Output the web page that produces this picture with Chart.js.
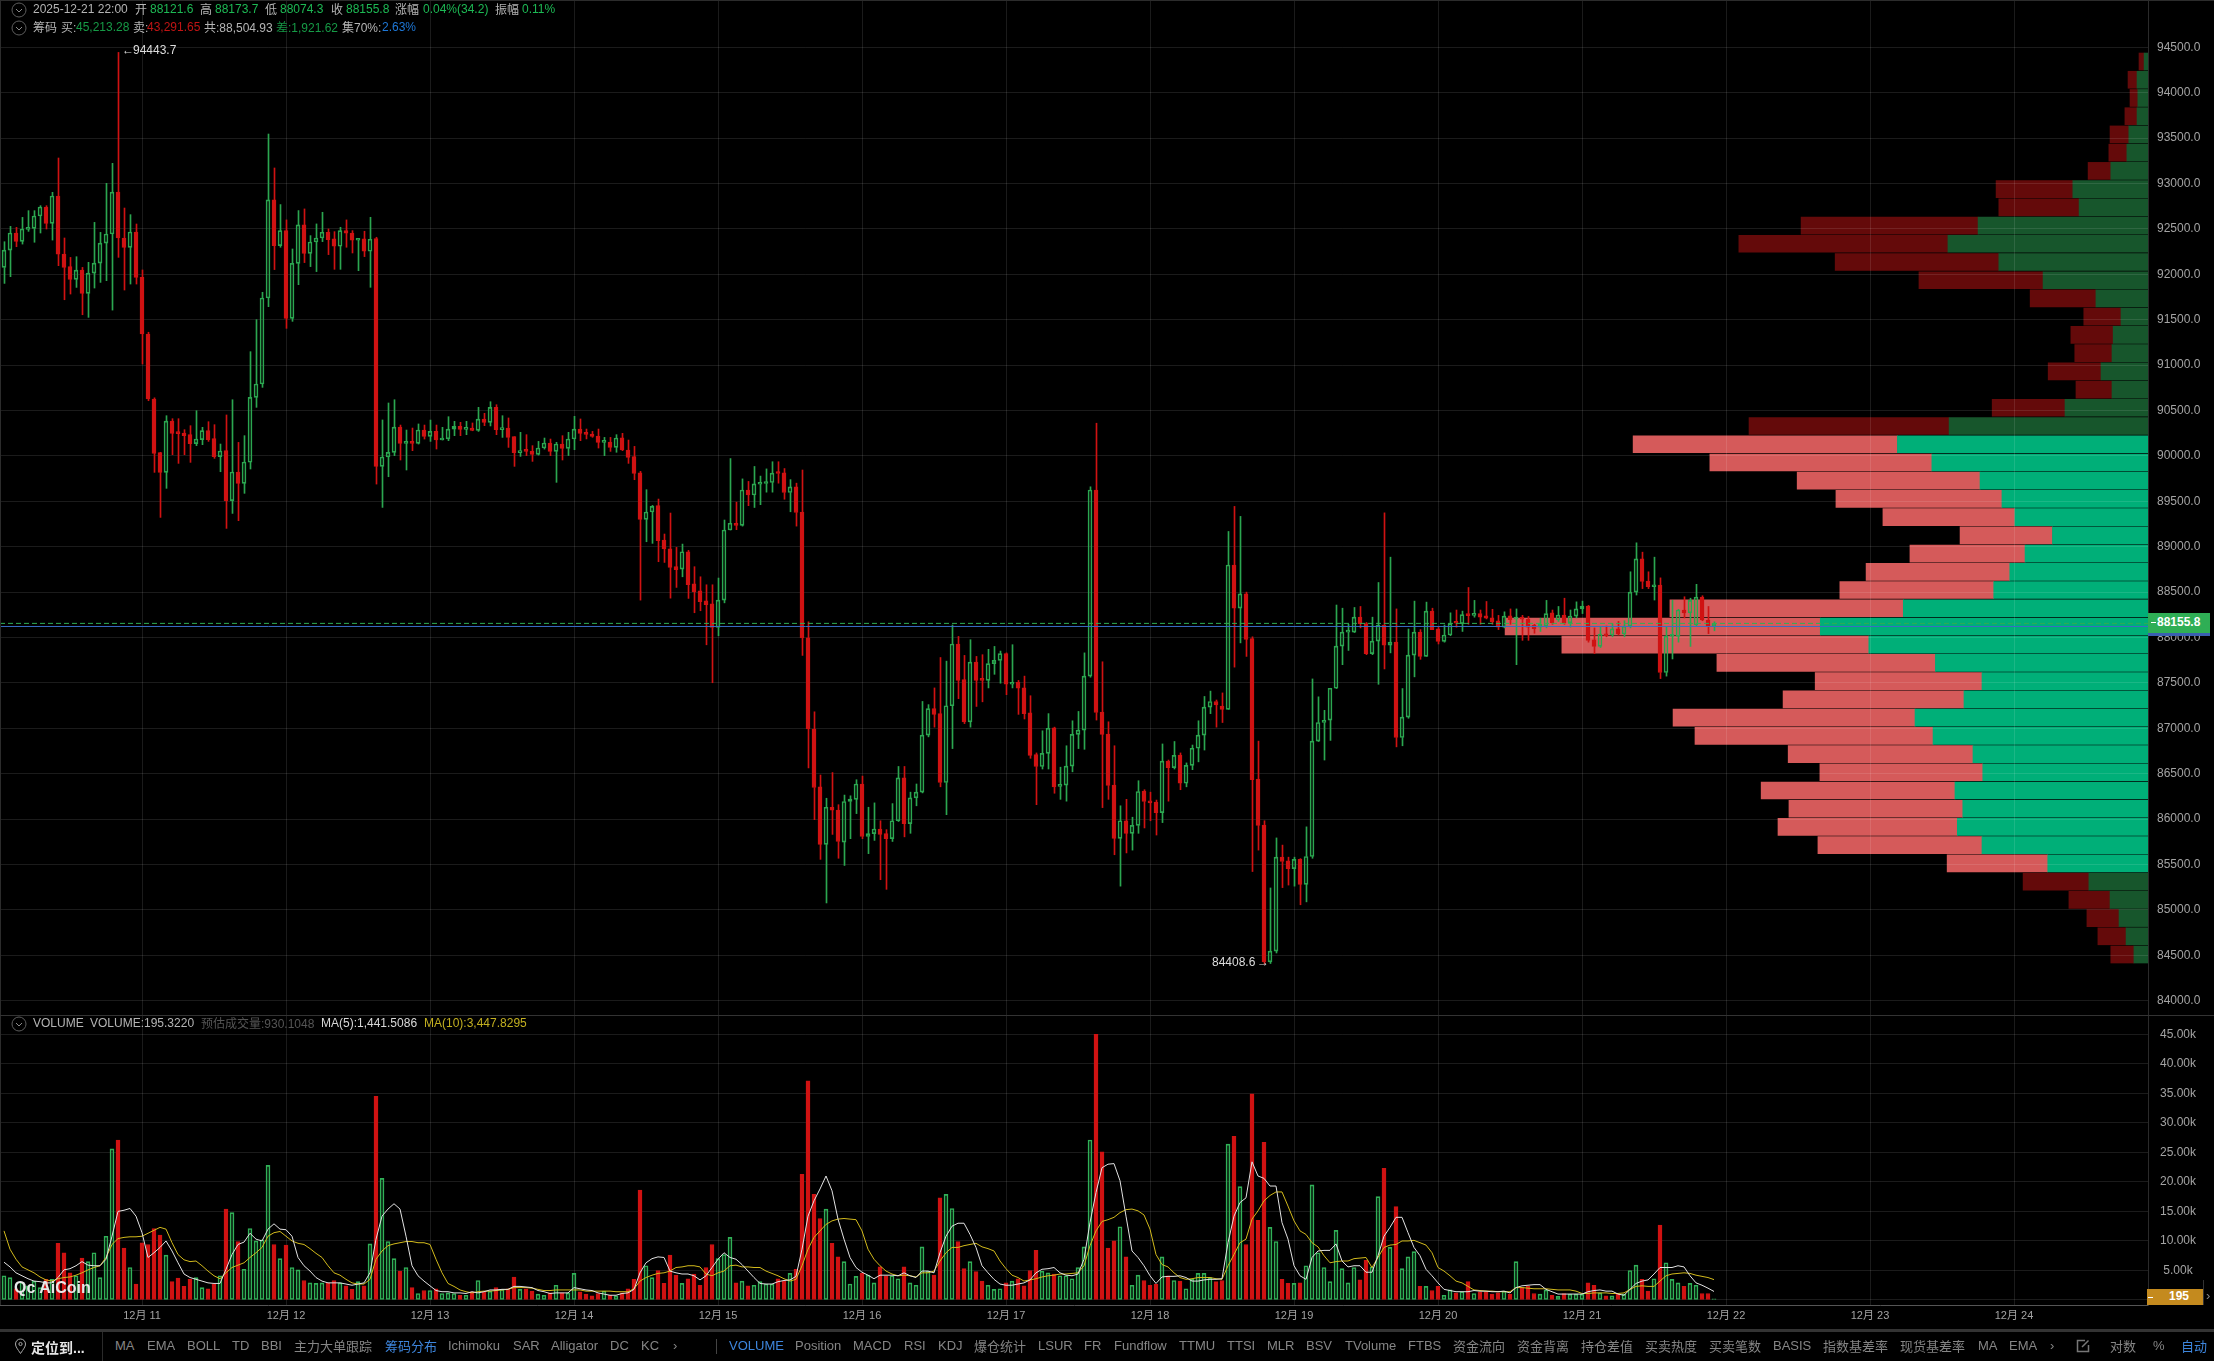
<!DOCTYPE html>
<html>
<head>
<meta charset="utf-8">
<title>BTC chips chart</title>
<script src="https://cdn.jsdelivr.net/npm/chart.js@4"></script>
<style>
  html, body { margin: 0; padding: 0; background: #000; width: 2214px; height: 1361px; overflow: hidden; }
  canvas { position: absolute; left: 0; }
  .t { position: absolute; white-space: nowrap; line-height: 16px; font: 12px "Liberation Sans", "Noto Sans CJK SC", sans-serif; z-index: 5; }
  .box { position: absolute; z-index: 4; }
  svg { position: absolute; z-index: 5; }
</style>
</head>
<body>
<canvas id="profile" width="2214" height="1015" style="top:0;z-index:1"></canvas>
<canvas id="price" width="2214" height="1015" style="top:0;z-index:2"></canvas>
<canvas id="volume" width="2214" height="314" style="top:1016px;z-index:2"></canvas>
<script>
const opens = [
  92076,92267,92455,92363,92495,92506,92642,92741,92561,92862,
  92223,92084,91944,92047,91790,92014,92124,92344,92444,92906,
  92400,92297,92466,91966,91343,90627,90036,89819,90384,90267,
  90252,90234,90135,90179,90278,90190,89992,90058,89507,89823,
  89698,89930,90645,90792,91739,92819,92316,92481,91515,92121,
  92544,92231,92356,92400,92463,92390,92309,92481,92455,92375,
  92390,92254,92393,89885,89988,90039,90318,90138,90153,90138,
  90285,90215,90270,90175,90187,90296,90326,90293,90307,90282,
  90406,90370,90535,90289,90307,90212,90036,90065,90054,90017,
  90087,90142,90050,90131,90083,90186,90296,90252,90241,90219,
  90150,90153,90094,90200,90065,89992,89815,89301,89382,89452,
  89074,88978,88780,88754,88945,88592,88515,88405,88372,88111,
  88412,89184,89259,89235,89625,89570,89688,89696,89707,89821,
  89814,89597,89660,89381,87996,86993,86356,85722,86131,86100,
  85746,86194,86218,86387,85809,85840,85891,85840,85785,85982,
  86454,85950,86234,86297,86926,87217,87162,86403,87249,87929,
  87536,87072,87729,87544,87528,87713,87748,87823,87485,87508,
  87445,87170,86710,86580,86725,87005,86360,86375,86584,86934,
  86981,87575,89625,87178,86938,86375,85789,85982,85844,85931,
  86308,86202,86187,86072,86639,86568,86706,86395,86592,86781,
  86926,87233,87296,87245,87209,88799,88323,88480,87988,86442,
  85935,84428,84546,85581,85541,85455,85557,85282,85589,86859,
  87064,87091,87441,87906,88059,88059,88224,88153,87823,87961,
  88138,87917,87949,86899,87123,87807,88059,87792,88291,88095,
  87957,88028,88173,88153,88264,88244,88264,88240,88216,88185,
  88114,88240,88201,88224,88201,88134,88114,88126,88272,88193,
  88248,88161,88236,88315,88346,87976,87902,88039,88028,88095,
  88039,88126,88500,88866,88622,88559,88578,87615,88012,88012,
  88303,88272,88138,88445,88193,88121.6
];
const closes = [
  92267,92455,92363,92499,92510,92642,92741,92561,92862,92223,
  92076,91944,92047,91790,92014,92124,92344,92444,92906,92400,
  92297,92466,91966,91343,90627,90028,89819,90384,90249,90245,
  90223,90135,90186,90278,90179,89992,90054,89507,89823,89698,
  89933,90645,90792,91739,92819,92316,92481,91515,92121,92544,
  92231,92356,92400,92463,92382,92309,92481,92452,92375,92390,
  92254,92386,89885,89988,90039,90318,90138,90150,90138,90285,
  90215,90270,90175,90197,90296,90326,90293,90311,90282,90406,
  90370,90535,90289,90311,90204,90036,90058,90050,90017,90087,
  90142,90050,90131,90083,90186,90296,90249,90238,90215,90150,
  90164,90094,90197,90065,89984,89808,89301,89382,89444,89066,
  88975,88772,88747,88945,88581,88504,88394,88361,88111,88412,
  89184,89259,89235,89625,89570,89692,89704,89711,89810,89806,
  89597,89660,89377,87996,86993,86348,85722,86131,86100,85754,
  86194,86222,86387,85809,85840,85891,85832,85785,85982,86454,
  85950,86234,86297,86926,87217,87154,86403,87249,87929,87528,
  87072,87729,87528,87528,87713,87748,87823,87485,87508,87441,
  87162,86702,86580,86725,87001,86356,86375,86584,86934,86981,
  87575,89625,87174,86934,86371,85789,85982,85844,85931,86304,
  86194,86179,86072,86639,86568,86702,86395,86592,86781,86926,
  87233,87296,87257,87209,88799,88323,88480,87980,86434,85931,
  84428,84546,85581,85533,85455,85557,85282,85589,86859,87064,
  87087,87441,87906,88059,88075,88224,88153,87823,87961,88138,
  87917,87949,86899,87123,87807,88059,87792,88291,88087,87957,
  88028,88153,88157,88252,88240,88260,88224,88212,88173,88114,
  88236,88197,88224,88201,88114,88098,88146,88264,88165,88248,
  88161,88236,88315,88346,87969,87902,88039,88020,88095,88039,
  88126,88500,88866,88618,88559,88578,87615,88016,88020,88303,
  88272,88409,88445,88193,88122,88155.8
];
const highs = [
  92359,92528,92517,92627,92701,92701,92756,92756,92903,93281,
  92400,92186,92194,92076,92132,92572,92462,93002,93222,94443.7,
  92730,92657,92554,92048,91362,90640,90040,90443,90410,90410,
  90289,90333,90498,90315,90377,90344,90131,90451,90619,90149,
  90223,91148,91501,91802,93545,93171,92768,92599,92279,92702,
  92720,92426,92555,92683,92500,92470,92518,92599,92481,92390,
  92474,92628,92408,90396,90583,90619,90340,90285,90307,90352,
  90340,90395,90340,90315,90432,90381,90370,90381,90363,90535,
  90469,90597,90564,90443,90418,90212,90260,90234,90113,90160,
  90197,90186,90150,90223,90260,90436,90407,90296,90270,90296,
  90204,90204,90234,90249,90175,90105,89830,89628,89455,89525,
  89140,89371,88993,89029,88960,88780,88669,88581,88581,88655,
  89294,89971,89491,89747,89719,89884,89778,89857,89936,89936,
  89861,89739,89700,89845,88173,87182,86486,86230,86513,86159,
  86265,86257,86434,86474,86131,86179,85982,85884,86171,86580,
  86580,86297,86387,87296,87261,87445,87780,87740,88138,88012,
  87803,87976,87792,87811,87870,87902,87851,87831,87921,87528,
  87575,87359,86729,86973,87162,87013,86572,86808,87083,87186,
  87831,89660,90360,87733,87072,86808,86147,86218,86021,86423,
  86324,86297,86210,86828,86651,86855,86729,86619,86816,87083,
  87351,87410,87312,87390,89168,89444,89334,88500,88008,86859,
  85982,85242,85793,85714,85581,85581,85565,85915,87544,87347,
  87198,87441,88358,88323,88146,88331,88342,88165,88224,88606,
  89373,88885,88315,87438,88094,88401,88087,88390,88323,88114,
  88138,88272,88303,88291,88551,88409,88303,88397,88311,88244,
  88283,88315,88315,88244,88232,88146,88212,88409,88303,88342,
  88433,88303,88393,88401,88354,88106,88114,88126,88153,88177,
  88185,88724,89043,88940,88724,88885,88657,88114,88409,88311,
  88449,88433,88586,88460,88342,88173.7
];
const lows = [
  91900,91974,92304,92333,92473,92353,92455,92499,92377,92095,
  91720,91783,91856,91555,91526,91849,91911,91930,91606,92187,
  91827,91893,91893,91012,90608,89819,89323,89643,90014,89918,
  90014,89929,90113,90124,90160,89973,89826,89202,89367,89287,
  89588,89856,90535,90755,91644,92052,92298,91405,91482,91886,
  92129,92085,92030,92360,92217,92055,92055,92298,92235,92040,
  92195,91857,89690,89433,89771,90003,89955,89845,90058,90131,
  90186,90160,90076,90175,90168,90223,90223,90234,90277,90270,
  90333,90330,90234,90204,90094,89885,89995,90003,89940,90009,
  90075,90003,89709,89955,90004,90069,90168,90187,90205,90087,
  90003,90050,90040,90058,89918,89738,88412,89055,89037,88835,
  88827,88434,88552,88669,88431,88273,88295,87920,87502,88019,
  88382,89184,89188,89227,89452,89432,89463,89601,89601,89700,
  89523,89385,89227,87803,86564,85994,85557,85077,85832,85569,
  85490,85785,86061,85785,85620,85766,85333,85227,85754,85974,
  85805,85844,86147,86289,86906,87013,86356,86049,86777,87327,
  87052,87013,87241,87292,87445,87595,87497,87371,87445,87154,
  87103,86670,86159,86552,86552,86285,86218,86198,86521,86777,
  86769,87563,87091,86127,86218,85608,85262,85628,85659,85844,
  85903,85982,85825,85962,86198,86552,86324,86356,86545,86631,
  86761,87162,87013,87064,87209,87674,87941,87792,85423,85659,
  84408.6,84410,84526,85246,85274,85262,85057,85089,85569,86855,
  86651,86867,87438,87701,87858,88055,88106,87811,87811,87485,
  87654,87831,86796,86808,87111,87567,87760,87792,88087,87929,
  87949,88020,88114,88067,88146,88224,88146,88205,88146,88087,
  88106,88146,87701,87969,87969,88047,88067,88106,88146,88177,
  88146,88114,88216,88264,87949,87823,87890,88008,88008,88028,
  88008,88106,88468,88539,88539,88413,87548,87575,87764,87949,
  88216,87902,88126,88185,88043,88074.3
];
// volume in thousands
const volumes = [
  4.1,3.8,1.9,3,2.4,3.2,2.1,3.5,3.5,9.6,
  8,4.6,4.1,7.1,6.5,8,3.8,10.8,25.6,27.1,
  8.8,5.5,2.7,9.7,9.4,12.1,11,7.6,3.1,3.7,
  2.3,3.5,3.8,2.1,1.9,2.7,4.1,15.4,14.8,9.9,
  5.2,12.1,10,10.2,22.8,9.4,7,9.3,5.5,5.1,
  3.3,2.9,2.8,2.9,2.9,3.3,2.9,2.4,1.8,3.1,
  2.4,9.5,34.5,20.6,9.9,7,4.9,5.5,2.1,1.1,
  1.6,1.6,1.9,1.1,1.2,1.1,.8,.8,1.4,3.3,
  1.4,1.5,2.1,1.8,1.9,3.9,1.8,1.9,1.5,1,
  .8,1.2,2.5,1.2,1.2,4.5,1.4,1,.7,1.1,
  1.5,.8,.7,1.2,1.9,3.5,18.6,5.8,3.8,5,
  2.8,7.6,4.2,2.8,3.6,4.4,2.5,5.5,9.4,7,
  7.7,10.6,2.9,3.2,2.4,2.5,3.1,2.7,2.7,3.6,
  3.2,4.5,5.2,21.3,37.1,17.9,13.8,15.4,9.6,7.3,
  6.5,2.7,4,4.5,4.2,2.9,5.6,4.1,4.1,3.6,
  5.6,2.9,2.5,9,4.9,4.2,17.3,17.9,15.5,9.9,
  5.3,6.5,4.8,3.2,2.5,1.8,1.9,2.9,3.2,3.6,
  2.4,5,8.4,4.9,4.6,4.4,4.1,4.1,3.6,5.5,
  9,27.1,45,25.1,8.8,10,12.4,7.3,2.5,4.2,
  3.3,2.5,2.7,7.3,4.1,3.3,3.2,1.9,3.5,4.5,
  4.5,3.8,3.1,3.3,26.4,27.7,19.2,9.4,34.9,13.5,
  26.7,12.3,9.9,3.5,2.8,2.8,2.9,5.8,19.5,8,
  5.5,3.1,11.8,5.3,2.9,5.5,3.4,6.7,5.6,17.5,
  22.3,8.9,15.8,5.3,7.3,8.2,2.3,2.3,1.6,2.3,
  .8,1.7,1.2,1.4,3.1,1.1,1.4,1.4,1,1.2,
  1.5,1,6.5,2.1,2.3,1.1,1,1.7,.8,.6,
  1.1,1,1,1,2.9,2.5,1.2,.7,.7,1,
  1,5,5.9,3.5,1.5,3.6,12.7,6.3,3.5,2.9,
  2.3,2.8,2.5,1.1,1.1,.195
];
const ma5 = [
  6.4,5.6,4.6,4.1,3.6,3.2,3.1,2.9,2.9,3.8,
  5.1,5.3,5.8,6.5,5.9,5.8,5.8,6.9,10.8,15,
  15.2,15.5,14.2,11.4,7.2,8,8.9,10,8.3,6.3,
  4.4,3.8,3.5,3.2,2.9,2.8,2.8,5.2,7.7,9.4,
  9.8,11.3,10.3,10,12,12.9,12,11.9,10.8,7.2,
  5.8,4.9,3.8,3.2,2.9,2.9,2.9,2.7,2.5,2.7,
  2.9,4.6,10.3,14.2,15.4,16.3,15.4,10.8,5.8,4.1,
  3.2,2.4,1.6,1.4,1.4,1.2,1.2,1.1,1.4,1.2,
  1.4,1.7,1.7,1.8,1.8,2.3,2.3,2.2,2.1,1.6,
  1.4,1.1,1.2,1.2,1.2,2.1,1.9,1.7,1.6,1.2,
  1,.8,.8,1.1,1.2,1.8,4.6,6.3,7,7.3,
  7.2,4.9,4.6,4.4,4.4,4.1,3.4,4.1,5.5,6.9,
  8,7.2,6.9,6,4.9,3.8,2.8,2.7,2.7,3.1,
  3.3,3.4,4,8.6,14.2,16.8,18.8,21,18.5,13.7,
  10.3,7.2,5.5,4.7,4.2,3.6,4.2,4.2,4.2,4.1,
  4.6,4.1,3.8,4.9,4.9,4.6,8,10.8,12.5,13,
  13,11.1,8.9,5.8,4.6,3.5,2.7,2.5,2.5,2.7,
  2.9,3.4,4.6,5.2,5.3,5.5,4.6,4.2,4.1,4.4,
  6.9,13.1,18.2,22.4,23,23.1,20.2,14.2,8.3,7.2,
  5.8,4.1,2.8,3.9,4,4,4.1,3.8,3.2,3.2,
  3.4,3.5,3.5,3.6,9.7,14.2,16.5,17.3,23.4,21,
  20.6,19.3,19.3,13.1,10.3,5.8,4.1,3.5,7.2,8.3,
  8.4,8.4,9.5,6.6,5.6,5.8,5.8,4.7,4.7,7.5,
  10.8,12.3,14,14,11.4,8.9,7.5,5.2,4.1,2.9,
  1.8,1.6,1.4,1.4,1.4,1.6,1.5,1.5,1.4,1.4,
  1.5,1.2,2.1,2.4,2.5,2.6,2.6,1.8,1.4,1,
  1,1,1,1,1.4,1.6,1.7,1.5,1.5,1,
  .8,1.8,2.8,3.2,3.4,4.4,5.5,5.5,5.5,5.8,
  5.6,4.1,2.9,2.5,2,1.44
];
const ma10 = [
  11.7,8.6,6.9,5.6,5.1,4.6,3.9,3.4,3.2,3.6,
  3.8,3.9,4.2,4.6,5.1,5.5,5.8,7.2,9.4,10.4,
  10.6,10.7,10.7,10.8,11.3,11.8,12.3,12,9.7,7.7,
  6.8,6.5,6.6,5.8,4.9,4.1,3.6,4.6,5.5,5.9,
  6.3,7.2,8,8.9,10.8,11.4,11.6,10.8,10,9.6,
  9.4,8.7,7.9,7.2,5.8,4.6,4.2,3.5,2.9,2.7,
  2.7,3.5,6.9,8.3,9.2,9.5,9.7,9.9,9.9,9.7,
  9.7,9.4,6.9,4.6,2.8,2.3,1.7,1.4,1.2,1.4,
  1.5,1.5,1.6,1.7,1.8,2.1,2.1,2.1,2,1.8,
  1.6,1.6,1.7,1.7,1.7,1.7,1.7,1.5,1.5,1.5,
  1.5,1.5,1.4,1.4,1.4,1.9,3.2,3.8,4.2,4.5,
  4.6,4.9,5.5,5.6,5.8,5.8,5.6,4.4,4.1,4.6,
  4.9,5.8,5.9,5.6,5.6,5.5,5.5,4.9,4.5,4.1,
  3.6,3.2,3.5,5.8,8.6,10.6,11.7,12.8,13.4,13.7,
  13.8,13.7,13.6,11.7,8.6,6.9,5.8,4.9,4.4,4.1,
  4.2,4.1,3.9,4.6,4.6,4.9,6.6,8,8.9,8.9,
  9.2,9.4,9.6,9,8.7,8.3,6.6,5.3,4.2,3.8,
  3.2,3.4,3.6,3.9,4.1,4.2,4.4,4.4,4.5,4.6,
  5.8,9.2,11.7,13.3,13.6,14,14.8,15.3,15.4,15.1,
  14.4,12,7.7,6,5.6,4.6,3.8,3.5,3.6,3.8,
  3.8,3.8,3.6,3.5,5.8,7.7,9.7,10.3,13.7,15.1,
  16.8,17.7,18.3,18.3,15.9,13.4,11.7,11.1,9.7,9,
  7.5,6.3,6.5,6.6,6.6,7,7.1,7.2,5.5,7.2,
  8.9,9.3,9.4,10,10,10.1,9.7,9.3,8,5.5,
  4.9,4.1,3.2,2.9,2.3,1.7,1.6,1.5,1.5,1.4,
  1.4,1.4,2.1,2.1,2,1.9,1.9,1.9,1.8,1.7,
  1.7,1.7,1.5,1.1,1.1,1.2,1.2,1.2,1.1,1.1,
  1.2,1.8,2.3,2.4,2.3,2.3,3.2,4.1,4.4,4.5,
  4.6,4.5,4.2,4,3.8,3.45
];
// chip distribution, one row per price bin, relative units
const profilePrices = [
  94343.4,94142.7,93942,93741.3,93540.6,93339.9,93139.2,92938.5,92737.8,92537.1,
  92336.4,92135.7,91935,91734.3,91533.6,91332.9,91132.2,90931.5,90730.8,90530.1,
  90329.4,90128.7,89928,89727.3,89526.6,89325.9,89125.2,88924.5,88723.8,88523.1,
  88322.4,88121.7,87921,87720.3,87519.6,87318.9,87118.2,86917.5,86716.8,86516.1,
  86315.4,86114.7,85914,85713.3,85512.6,85311.9,85111.2,84910.5,84709.8,84509.1
];
const profileBuy = [
  10,28,26,28,49,54,95,192,176,434,
  511,381,268,133,69,89,92,120,92,212,
  508,640,552,429,373,340,244,314,353,394,
  625,837,713,543,424,470,595,549,447,422,
  493,473,487,424,256,151,97,74,56,36
];
const profileSell = [
  13,23,20,31,48,46,58,196,205,452,
  534,418,317,168,95,108,95,135,92,186,
  511,675,567,467,424,337,236,294,367,393,
  596,805,784,558,426,462,618,608,472,416,
  495,444,458,419,257,168,105,82,72,59
];
const priceTicks = [
  84000,84500,85000,85500,86000,86500,87000,87500,88000,88500,89000,
  89500,90000,90500,91000,91500,92000,92500,93000,93500,94000,94500
];
const volumeTicks = [0,5,10,15,20,25,30,35,40,45];
const dayTicks = [23,47,71,95,119,143,167,191,215,239,263,287,311,335];
const dayLabels = [
  "12月 11","12月 12","12月 13","12月 14","12月 15","12月 16","12月 17",
  "12月 18","12月 19","12月 20","12月 21","12月 22","12月 23","12月 24"
];
const lastPrice = 88155.8;
const openPrice = 88121.6;
const valueAreaLow = 85400;
const valueAreaHigh = 90230;

const red = "#d01212";
const green = "#2ba650";
const volGreen = "#30b057";
const gridColor = "rgba(255,255,255,0.105)";
const axisText = "#a3a3a3";

const xMin = -0.6667;
const xMax = 357.3333;
const priceMin = 83843;
const priceMax = 95021;

Chart.defaults.font.family = '"Liberation Sans", "Noto Sans CJK SC", sans-serif';
Chart.defaults.font.size = 12;

const isUp = (i) => closes[i] >= opens[i];
const dirColors = (up, down) => opens.map((o, i) => (isUp(i) ? up : down));
const hiddenPlugins = { legend: { display: false }, tooltip: { enabled: false } };
// chart.js keeps room for the outer tick labels otherwise, which shifts the scale
const noPadding = (s) => {
  s.paddingTop = 0;
  s.paddingBottom = 0;
  s.paddingLeft = 0;
  s.paddingRight = 0;
};

// volume profile sits behind the candles
new Chart(document.getElementById("profile"), {
  type: "bar",
  data: {
    datasets: [
      {
        data: profileBuy.map((v, i) => ({ x: v, y: profilePrices[i] })),
        backgroundColor: profilePrices.map((p) => (p > valueAreaLow && p < valueAreaHigh ? "#00af78" : "#17562c")),
        barThickness: 17,
        grouped: false,
      },
      {
        data: profileSell.map((v, i) => ({ x: v, y: profilePrices[i] })),
        backgroundColor: profilePrices.map((p) => (p > valueAreaLow && p < valueAreaHigh ? "#d55a5a" : "#640a0a")),
        barThickness: 17,
        grouped: false,
      },
    ],
  },
  options: {
    indexAxis: "y",
    responsive: false,
    animation: false,
    devicePixelRatio: 1,
    layout: { padding: { right: 66 } },
    plugins: hiddenPlugins,
    scales: {
      x: { type: "linear", display: false, reverse: true, stacked: true, min: 0, max: 5486 },
      y: { type: "linear", display: false, stacked: true, offset: false, min: priceMin, max: priceMax },
    },
  },
});

const bodyData = opens.map((o, i) => ({ x: i, y: [o, closes[i]] }));
const upperWick = opens.map((o, i) => ({ x: i, y: [Math.max(o, closes[i]), highs[i]] }));
const lowerWick = opens.map((o, i) => ({ x: i, y: [lows[i], Math.min(o, closes[i])] }));

const wickDataset = (data) => ({
  data: data,
  xAxisID: "xWick",
  backgroundColor: dirColors(green, red),
  barThickness: 1,
  grouped: false,
  order: 2,
});

new Chart(document.getElementById("price"), {
  type: "bar",
  data: {
    datasets: [
      wickDataset(upperWick),
      wickDataset(lowerWick),
      {
        data: bodyData,
        backgroundColor: dirColors("rgba(0,0,0,0)", red),
        borderColor: dirColors(green, red),
        borderWidth: 1,
        borderSkipped: false,
        barThickness: 4,
        minBarLength: 2,
        grouped: false,
        order: 1,
      },
      {
        type: "line",
        data: [{ x: xMin, y: lastPrice }, { x: xMax, y: lastPrice }],
        borderColor: "#2fae55",
        borderWidth: 1,
        borderDash: [5, 3],
        pointRadius: 0,
        order: 0,
      },
      {
        type: "line",
        data: [{ x: xMin, y: openPrice }, { x: xMax, y: openPrice }],
        borderColor: "#3a6cc4",
        borderWidth: 1,
        pointRadius: 0,
        order: 0,
      },
    ],
  },
  options: {
    responsive: false,
    animation: false,
    devicePixelRatio: 1,
    layout: { padding: 0 },
    plugins: hiddenPlugins,
    scales: {
      x: {
        type: "linear",
        min: xMin,
        max: xMax,
        offset: false,
        afterBuildTicks: (s) => { s.ticks = dayTicks.map((v) => ({ value: v })); },
        afterFit: (s) => { s.height = 0; noPadding(s); },
        ticks: { display: false },
        grid: { color: gridColor, drawTicks: false, offset: false },
        border: { display: false },
      },
      xWick: { type: "linear", display: false, offset: false, min: xMin - 0.0833, max: xMax - 0.0833 },
      y: {
        position: "right",
        min: priceMin,
        max: priceMax,
        afterBuildTicks: (s) => { s.ticks = priceTicks.map((v) => ({ value: v })); },
        afterFit: (s) => { s.width = 66; noPadding(s); },
        ticks: {
          color: axisText,
          padding: 9,
          crossAlign: "center",
          callback: (v) => v.toFixed(1),
        },
        grid: { color: gridColor, drawTicks: false },
        border: { display: true, color: "#2a2a2a" },
      },
    },
  },
});

new Chart(document.getElementById("volume"), {
  type: "bar",
  data: {
    datasets: [
      {
        data: volumes.map((v, i) => ({ x: i, y: v })),
        backgroundColor: dirColors("rgba(0,0,0,0)", red),
        borderColor: dirColors(volGreen, red),
        borderWidth: 1,
        borderSkipped: false,
        barThickness: 4,
        grouped: false,
        order: 2,
      },
      {
        type: "line",
        data: ma10.map((v, i) => ({ x: i, y: v })),
        borderColor: "#d2ba1c",
        borderWidth: 1,
        pointRadius: 0,
        order: 1,
      },
      {
        type: "line",
        data: ma5.map((v, i) => ({ x: i, y: v })),
        borderColor: "#e2e2e2",
        borderWidth: 1,
        pointRadius: 0,
        order: 0,
      },
    ],
  },
  options: {
    responsive: false,
    animation: false,
    devicePixelRatio: 1,
    layout: { padding: 0 },
    plugins: hiddenPlugins,
    scales: {
      x: {
        type: "linear",
        min: xMin,
        max: xMax,
        offset: false,
        afterBuildTicks: (s) => { s.ticks = dayTicks.map((v) => ({ value: v })); },
        afterFit: (s) => { s.height = 25; noPadding(s); },
        ticks: {
          color: axisText,
          font: { size: 11 },
          padding: 4,
          maxRotation: 0,
          autoSkip: false,
          callback: (v, i) => dayLabels[i],
        },
        grid: { color: gridColor, drawTicks: false, offset: false },
        border: { display: true, color: "#555" },
      },
      y: {
        position: "right",
        min: -0.85,
        max: 48.1,
        afterBuildTicks: (s) => { s.ticks = volumeTicks.map((v) => ({ value: v })); },
        afterFit: (s) => { s.width = 66; noPadding(s); },
        ticks: {
          color: axisText,
          padding: 12,
          crossAlign: "center",
          callback: (v) => (v === 0 ? "" : v.toFixed(2) + "k"),
        },
        grid: { color: gridColor, drawTicks: false },
        border: { display: true, color: "#2a2a2a" },
      },
    },
  },
});

// everything around the charts: header rows, toolbar, price tags
const gray = "#b4b4b4";
const up = "#1db954";
const down = "#c01414";
const blue = "#3d85dc";
const tool = "#858585";

const headerTexts = [
  [33, 10, "2025-12-21 22:00", gray], [135, 10, "开", gray], [150, 10, "88121.6", up],
  [200, 10, "高", gray], [215, 10, "88173.7", up], [265, 10, "低", gray], [280, 10, "88074.3", up],
  [331, 10, "收", gray], [346, 10, "88155.8", up], [395, 10, "涨幅", gray],
  [423, 10, "0.04%(34.2)", up], [495, 10, "振幅", gray], [522, 10, "0.11%", up],
  [33, 28, "筹码", gray], [61, 28, "买:", gray], [76, 28, "45,213.28", "#169a46"],
  [133, 28, "卖:", gray], [147, 28, "43,291.65", down], [204, 28, "共:88,504.93", gray],
  [276, 28, "差:1,921.62", "#169a46"], [342, 28, "集70%:", gray], [382, 28, "2.63%", "#1e78d8"],
  [33, 1024, "VOLUME", gray], [90, 1024, "VOLUME:195.3220", gray],
  [201, 1024, "预估成交量:930.1048", "#555"], [321, 1024, "MA(5):1,441.5086", "#d8d8d8"],
  [424, 1024, "MA(10):3,447.8295", "#c3b020"],
  [133, 51, "94443.7", "#ddd"], [122, 51, "←", "#ddd"], [1212, 963, "84408.6", "#ddd"], [1257, 963, "→", "#ddd"],
];
const toolbarTexts = [
  [115, "MA"], [147, "EMA"], [187, "BOLL"], [232, "TD"], [261, "BBI"], [294, "主力大单跟踪"],
  [385, "筹码分布", blue], [448, "Ichimoku"], [513, "SAR"], [551, "Alligator"], [610, "DC"], [641, "KC"],
  [673, "›"], [729, "VOLUME", blue], [795, "Position"], [853, "MACD"], [904, "RSI"], [938, "KDJ"],
  [974, "爆仓统计"], [1038, "LSUR"], [1084, "FR"], [1114, "Fundflow"], [1179, "TTMU"], [1227, "TTSI"],
  [1267, "MLR"], [1306, "BSV"], [1345, "TVolume"], [1408, "FTBS"], [1453, "资金流向"], [1517, "资金背离"],
  [1581, "持仓差值"], [1645, "买卖热度"], [1709, "买卖笔数"], [1773, "BASIS"], [1823, "指数基差率"],
  [1900, "现货基差率"], [1978, "MA"], [2009, "EMA"], [2050, "›"], [2110, "对数"], [2153, "%"], [2181, "自动", blue],
];

const addText = (x, y, text, color, size, weight) => {
  const el = document.createElement("div");
  el.className = "t";
  el.textContent = text;
  el.style.left = x + "px";
  // the CJK fallback font sits a little lower in the line box
  const lift = /[\u4e00-\u9fff]/.test(text) ? 2 : 0;
  el.style.top = y - 8 - lift + "px";
  el.style.color = color;
  if (size) el.style.fontSize = size + "px";
  if (weight) el.style.fontWeight = weight;
  document.body.appendChild(el);
  return el;
};
const addBox = (x, y, w, h, color) => {
  const el = document.createElement("div");
  el.className = "box";
  el.style.cssText = `left:${x}px;top:${y}px;width:${w}px;height:${h}px;background:${color}`;
  document.body.appendChild(el);
};
const addIcon = (x, y, w, h, body) => {
  const svg = `<svg style="left:${x}px;top:${y}px" width="${w}" height="${h}" viewBox="0 0 ${w} ${h}" fill="none">${body}</svg>`;
  document.body.insertAdjacentHTML("beforeend", svg);
};
const chevronCircle = '<circle cx="8" cy="8" r="7" stroke="#5c5c5c"/><path d="M5 7l3 3 3-3" stroke="#8a8a8a"/>';

headerTexts.forEach((t) => addText(t[0], t[1], t[2], t[3]));
toolbarTexts.forEach((t) => addText(t[0], 1346, t[1], t[2] || tool, 13));
addText(31, 1347, "定位到...", "#e6e6e6", 14, "bold");
addText(14, 1287, "Qc AiCoin", "#e8e8e8", 16, "bold");

addIcon(11, 2, 16, 16, chevronCircle);
addIcon(11, 20, 16, 16, chevronCircle);
addIcon(11, 1016, 16, 16, chevronCircle);
addIcon(14, 1338, 13, 17, '<path d="M6.5 15.5C3.5 11 1.5 8.8 1.5 6a5 5 0 0 1 10 0c0 2.8-2 5-5 9.5z" stroke="#a8a8a8"/><circle cx="6.5" cy="6" r="1.6" stroke="#a8a8a8"/>');
addIcon(2076, 1339, 14, 14, '<path d="M9 1.5H1.5v11h11V6M6 8l6.5-6.5" stroke="#777" stroke-width="1.5"/>');

// panel frame lines
addBox(0, 0, 2214, 1, "#2c2c2c");
addBox(0, 0, 1, 1305, "#2c2c2c");
addBox(0, 1015, 2214, 1, "#333");
addBox(0, 1329, 2214, 3, "#333");
addBox(102, 1332, 1, 29, "#2a2a2a");
addBox(716, 1339, 1, 15, "#444");

// last price tag
addBox(2148, 613, 62, 20, "#2fae55");
addBox(2148, 633, 62, 3, "#3a5fb0");
addBox(2151, 622, 5, 1, "#fff");
addText(2157, 623, "88155.8", "#fff", 12, "bold");
// last volume tag
addBox(2147, 1289, 56, 16, "#c48a1e");
addBox(2148, 1297, 5, 1, "#fff");
addText(2169, 1297, "195", "#fff", 12, "bold");
addBox(2203, 1280, 1, 25, "#333");
addText(2206, 1296, "›", "#888", 13);
</script>
</body>
</html>
